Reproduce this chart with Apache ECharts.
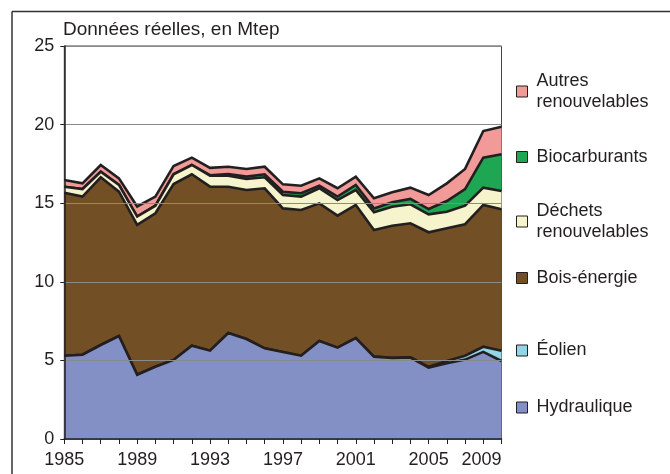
<!DOCTYPE html>
<html>
<head>
<meta charset="utf-8">
<script src="https://cdn.jsdelivr.net/npm/echarts@6/dist/echarts.min.js"></script>
<style>
html,body{margin:0;padding:0;background:#fff;}
#chart{width:670px;height:474px;}
</style>
</head>
<body>
<div id="chart"></div>
<script>
const years = ['1985','1986','1987','1988','1989','1990','1991','1992','1993','1994','1995','1996','1997','1998','1999','2000','2001','2002','2003','2004','2005','2006','2007','2008','2009'];
const hydraulique = [5.30,5.36,5.98,6.55,4.09,4.60,5.03,5.94,5.62,6.74,6.36,5.77,5.53,5.30,6.23,5.81,6.42,5.24,5.15,5.18,4.54,4.82,5.05,5.54,4.96];
const eolien = [0,0,0,0,0,0,0,0,0,0,0,0,0,0,0,0,0,0,0.01,0.02,0.05,0.14,0.25,0.33,0.65];
const boisEnergie = [10.37,10.06,10.67,9.18,9.53,9.76,11.19,10.90,10.43,9.31,9.48,10.18,9.14,9.27,8.76,8.40,8.47,8.06,8.41,8.52,8.56,8.44,8.36,9.02,9.00];
const dechets = [0.38,0.48,0.35,0.43,0.53,0.48,0.62,0.59,0.70,0.70,0.70,0.70,0.85,0.85,0.96,0.99,0.95,1.12,1.21,1.21,1.14,1.06,1.18,1.10,1.17];
const biocarburants = [0,0,0,0,0,0,0,0,0.03,0.11,0.15,0.19,0.21,0.21,0.16,0.22,0.32,0.25,0.28,0.34,0.34,0.68,1.06,1.91,2.33];
const autres = [0.43,0.36,0.43,0.42,0.64,0.58,0.53,0.47,0.47,0.46,0.49,0.48,0.47,0.48,0.47,0.53,0.53,0.64,0.63,0.72,0.89,1.12,1.28,1.69,1.76];
const yTicks = {min:0, max:25, interval:5};
const unitLabel = 'Données réelles, en Mtep';

const FONT = '"Liberation Sans", Arial, sans-serif';
const INK = '#231f20';
const seriesDefs = [
  {name:'Hydraulique', data:hydraulique, color:'#8290c6'},
  {name:'Éolien', data:eolien, color:'#92d5e6'},
  {name:'Bois-énergie', data:boisEnergie, color:'#734f26'},
  {name:'Déchets\nrenouvelables', data:dechets, color:'#f5f4cd'},
  {name:'Biocarburants', data:biocarburants, color:'#1ea653'},
  {name:'Autres\nrenouvelables', data:autres, color:'#f29a98'}
];

const series = seriesDefs.map((s, i) => ({
  name: s.name,
  type: 'line',
  stack: 'total',
  data: s.data,
  symbol: 'none',
  z: 10 - i,
  color: s.color,
  lineStyle: {color: INK, width: 2.6, join: 'miter'},
  areaStyle: {color: s.color, opacity: 1},
  emphasis: {disabled: true}
}));

// legend positions (top of each legend box)
const legendTops = {
  'Autres\nrenouvelables': 60,
  'Biocarburants': 146.5,
  'Déchets\nrenouvelables': 190,
  'Bois-énergie': 267.5,
  'Éolien': 340,
  'Hydraulique': 397
};
const legends = seriesDefs.map(s => {
  const twoLine = s.name.indexOf('\n') >= 0;
  return {
    left: 516,
    top: legendTops[s.name],
    padding: 0,
    itemWidth: 11,
    itemHeight: 11,
    icon: 'rect',
    selectedMode: false,
    data: [{name: s.name, icon: 'rect', itemStyle: {color: s.color, borderColor: INK, borderWidth: 1}}],
    textStyle: {
      fontFamily: FONT, fontSize: 18, color: INK, lineHeight: 21,
      padding: twoLine ? [0, 0, 21, 4] : [0, 0, 0, 4]
    }
  };
});

const chart = echarts.init(document.getElementById('chart'), null, {renderer: 'canvas'});
chart.setOption({
  animation: false,
  backgroundColor: '#fff',
  title: {
    text: unitLabel, left: 58, top: 15,
    textStyle: {fontFamily: FONT, fontSize: 19, fontWeight: 'normal', color: INK}
  },
  grid: {left: 64.3, right: 168.5, top: 46, bottom: 35, show: true, borderColor: '#444', borderWidth: 1, backgroundColor: 'transparent'},
  legend: legends,
  xAxis: {
    type: 'category',
    data: years,
    boundaryGap: false,
    z: 20,
    axisLine: {show: true, lineStyle: {color: INK, width: 1.5}},
    axisTick: {show: true, interval: 0, length: 5, lineStyle: {color: INK, width: 1}},
    axisLabel: {interval: 3, fontFamily: FONT, fontSize: 18, color: INK, margin: 12, alignMaxLabel: 'right'},
    splitLine: {show: false}
  },
  yAxis: {
    type: 'value',
    min: yTicks.min, max: yTicks.max, interval: yTicks.interval,
    z: 20,
    axisLine: {show: true, lineStyle: {color: INK, width: 1.5}},
    axisTick: {show: true, length: 4, lineStyle: {color: INK}},
    axisLabel: {fontFamily: FONT, fontSize: 18, color: INK, margin: 10},
    splitLine: {show: true, lineStyle: {color: '#8a8a8a', width: 1.2}}
  },
  graphic: [
    {type: 'line', shape: {x1: 12, y1: 11.5, x2: 670, y2: 11.5}, style: {stroke: '#333', lineWidth: 1.5}, silent: true},
    {type: 'line', shape: {x1: 12, y1: 11.5, x2: 12, y2: 474}, style: {stroke: '#333', lineWidth: 1.5}, silent: true}
  ],
  series: series
});
</script>
</body>
</html>
